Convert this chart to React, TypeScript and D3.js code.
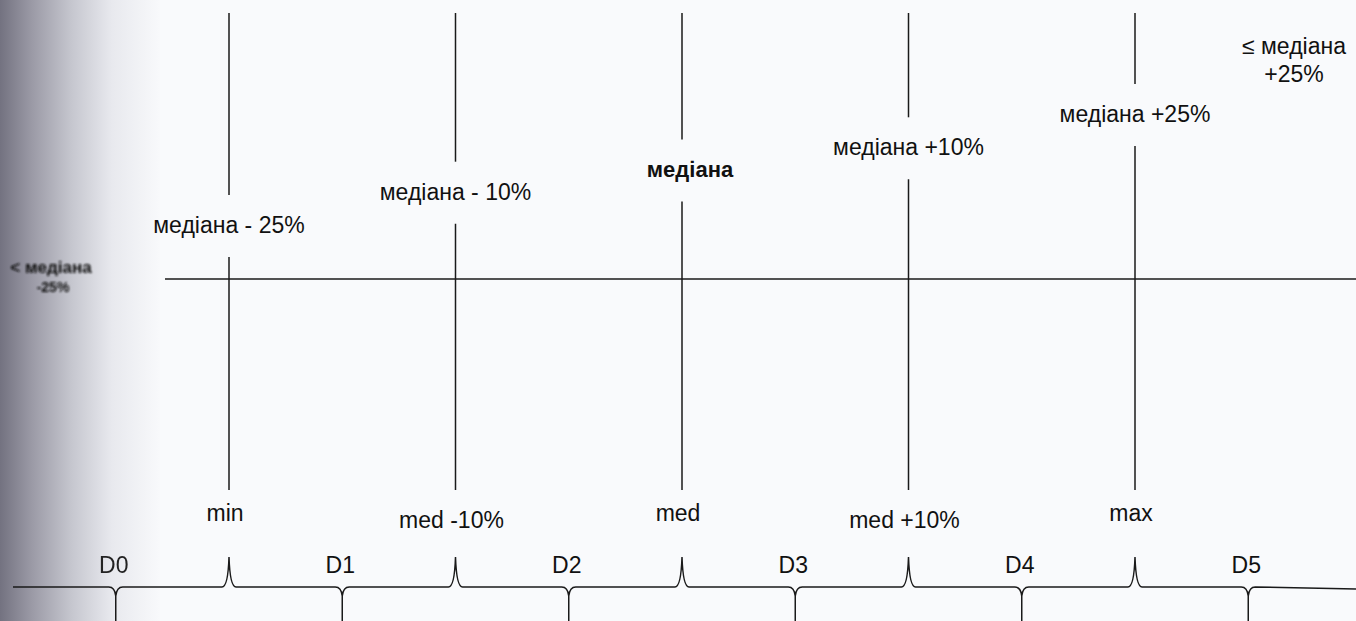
import React from "react";
import * as d3 from "d3";

// ---- data ----
const deviations = [-25, -10, 0, 10, 25];
const upperLabels = ["медіана - 25%", "медіана - 10%", "медіана", "медіана +10%", "медіана +25%"];
const lowerLabels = ["min", "med -10%", "med", "med +10%", "max"];
const zoneLabels = ["D0", "D1", "D2", "D3", "D4", "D5"];
const leftEdgeLabel = ["< медіана", "-25%"];
const rightEdgeLabel = ["≤ медіана", "+25%"];

const W = 1356;
const H = 621;

export default function App() {
  const x = d3.scaleLinear().domain([0, deviations.length - 1]).range([229, 1135]);
  const y = d3.scaleLinear().domain([-25, 25]).range([225, 114]);
  const axisY = 279;
  const lineTop = 13;
  const lineBottom = 490;
  const braceY = 587;

  // brace path
  const p = d3.path();
  p.moveTo(13, braceY);
  const events: { pos: number; kind: "up" | "down" }[] = [];
  zoneLabels.forEach((_, j) => events.push({ pos: x(j - 0.5), kind: "down" }));
  deviations.forEach((_, i) => events.push({ pos: x(i), kind: "up" }));
  events.sort((a, b) => a.pos - b.pos);
  events.forEach((e) => {
    const c = e.pos;
    if (e.kind === "up") {
      p.lineTo(c - 7, braceY);
      p.quadraticCurveTo(c - 1, braceY, c, braceY - 30);
      p.quadraticCurveTo(c + 1, braceY, c + 7, braceY);
    } else {
      p.lineTo(c - 7, braceY);
      p.quadraticCurveTo(c - 1, braceY, c, braceY + 9);
      p.quadraticCurveTo(c + 1, braceY, c + 7, braceY);
      p.moveTo(c, braceY + 9);
      p.lineTo(c, H);
      p.moveTo(c + 7, braceY);
    }
  });
  p.lineTo(W, braceY + 2);

  const font = "'Liberation Sans', Arial, sans-serif";
  const fs = 23;

  return (
    <svg
      width={W}
      height={H}
      style={{ position: "absolute", left: 0, top: 0, display: "block" }}
      fontFamily={font}
    >
      <defs>
        <linearGradient id="shadow" x1="0" x2="1" y1="0" y2="0">
          <stop offset="0" stopColor="#737280" />
          <stop offset="0.2" stopColor="#9b9aa6" />
          <stop offset="0.45" stopColor="#c6c7cf" />
          <stop offset="0.7" stopColor="#e8e9ee" />
          <stop offset="1" stopColor="#f8f9fb" />
        </linearGradient>
        <filter id="blur" x="-10%" y="-50%" width="120%" height="200%">
          <feGaussianBlur stdDeviation="1.1" />
        </filter>
        <filter id="soft" x="-5%" y="-50%" width="110%" height="200%">
          <feGaussianBlur stdDeviation="0.7" />
        </filter>
      </defs>
      <rect x={0} y={0} width={W} height={H} fill="#f9fafc" />
      <rect x={0} y={0} width={160} height={H} fill="url(#shadow)" />

      {/* horizontal axis */}
      <line x1={165} x2={W} y1={axisY} y2={axisY} stroke="#1a1a1a" strokeWidth={1.6} />

      {/* vertical lines with label gaps */}
      {deviations.map((d, i) => (
        <g key={i} stroke="#1a1a1a" strokeWidth={1.5}>
          <line x1={x(i)} x2={x(i)} y1={lineTop} y2={y(d) - 30} />
          <line x1={x(i)} x2={x(i)} y1={y(d) + 32} y2={lineBottom} />
        </g>
      ))}

      {/* upper labels */}
      {upperLabels.map((t, i) => (
        <text
          key={t}
          x={x(i) + (i === 2 ? 8 : 0)}
          y={y(deviations[i])}
          dy="0.35em"
          textAnchor="middle"
          fontSize={i === 2 ? 22 : fs}
          fontWeight={i === 2 ? "bold" : "normal"}
          fill="#111"
        >
          {t}
        </text>
      ))}

      {/* lower labels */}
      {lowerLabels.map((t, i) => (
        <text
          key={t}
          x={x(i) - 4}
          y={i % 2 === 1 ? 520 : 513}
          dy="0.35em"
          textAnchor="middle"
          fontSize={fs}
          fill="#111"
        >
          {t}
        </text>
      ))}

      {/* zone labels */}
      {zoneLabels.map((t, j) => (
        <text
          key={t}
          x={x(j - 0.5) - 2}
          y={565}
          dy="0.35em"
          textAnchor="middle"
          fontSize={fs}
          fill={j === 0 ? "#222" : "#111"}
          filter={j === 0 ? "url(#soft)" : undefined}
        >
          {t}
        </text>
      ))}

      {/* brace */}
      <path d={p.toString()} fill="none" stroke="#1a1a1a" strokeWidth={1.5} />

      {/* edge labels */}
      <g fill="#111" textAnchor="middle" fontWeight="bold" filter="url(#blur)">
        <text x={51} y={267} dy="0.35em" fontSize={17}>{leftEdgeLabel[0]}</text>
        <text x={53} y={287} dy="0.35em" fontSize={14}>{leftEdgeLabel[1]}</text>
      </g>
      <g fill="#111" fontSize={fs} textAnchor="middle">
        <text x={1294} y={46} dy="0.35em">{rightEdgeLabel[0]}</text>
        <text x={1294} y={74} dy="0.35em">{rightEdgeLabel[1]}</text>
      </g>
    </svg>
  );
}
